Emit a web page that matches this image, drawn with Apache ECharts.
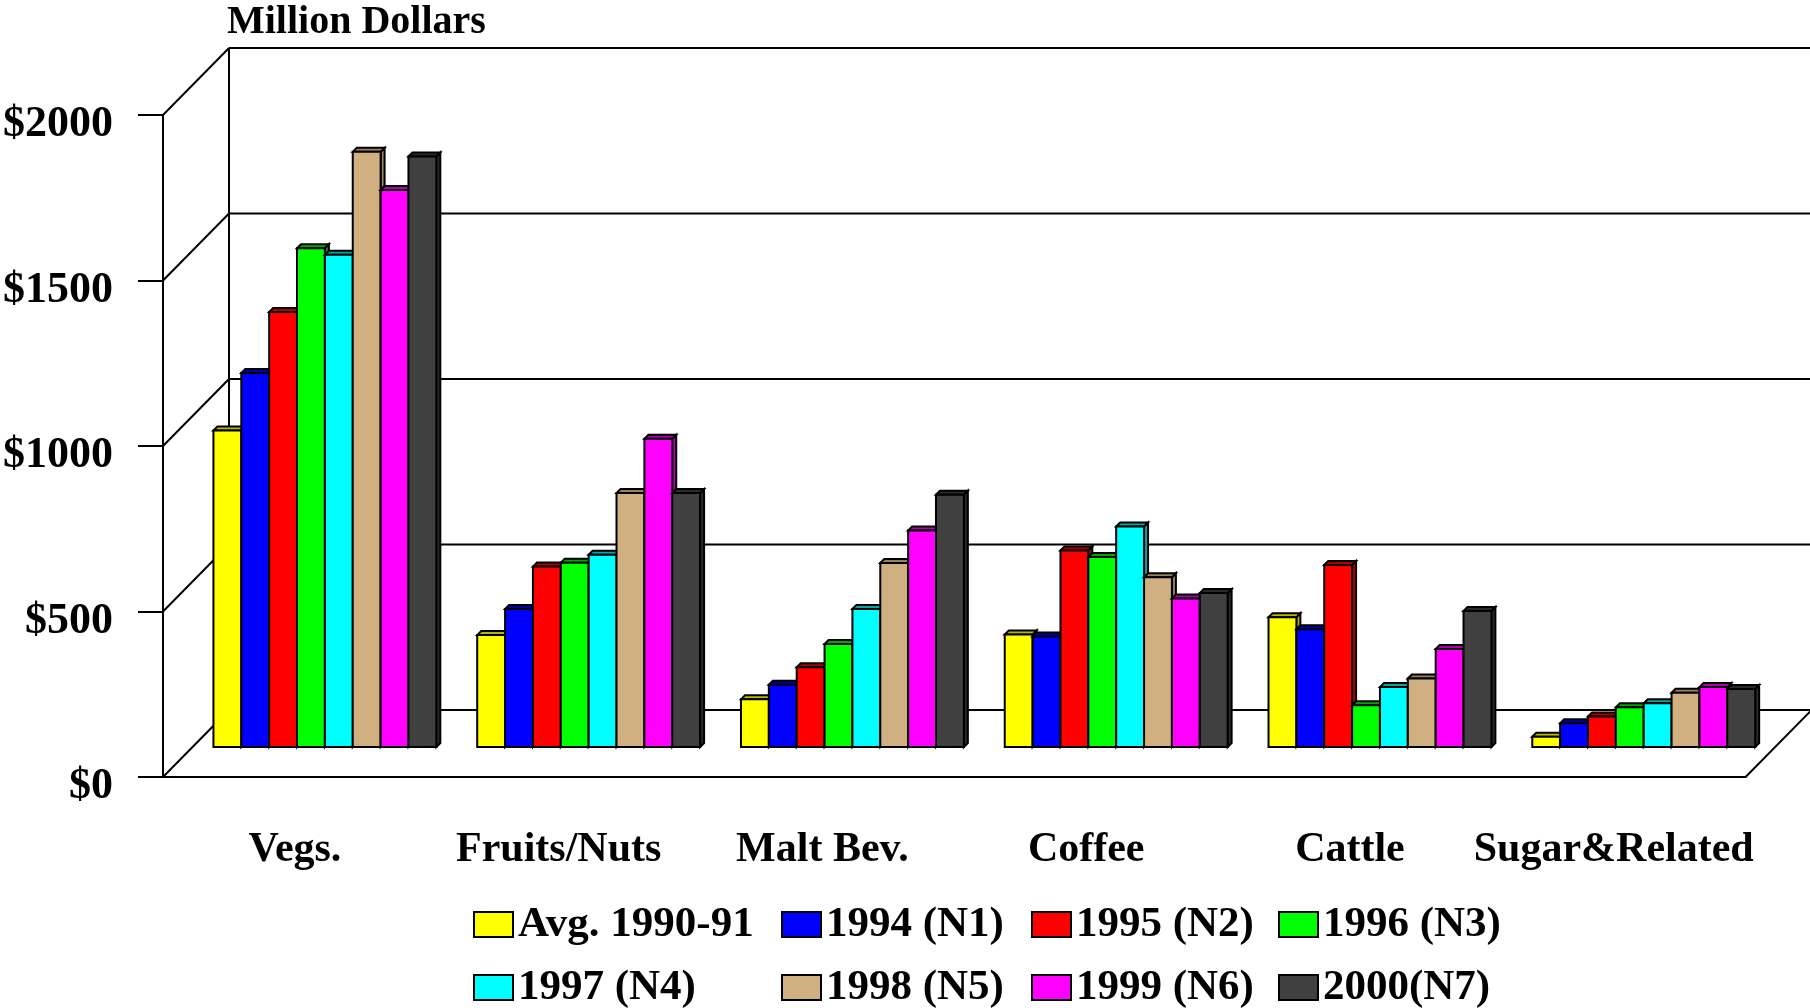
<!DOCTYPE html>
<html><head><meta charset="utf-8">
<script src="https://cdn.jsdelivr.net/npm/echarts@6/dist/echarts.min.js"></script>
<style>html,body{margin:0;padding:0;background:#fff}#c{width:1810px;height:1008px}</style>
</head><body><div id="c"></div>
<script>
// ---- data ----
const categories = ['Vegs.', 'Fruits/Nuts', 'Malt Bev.', 'Coffee', 'Cattle', 'Sugar&Related'];
const seriesNames = ['Avg. 1990-91', '1994 (N1)', '1995 (N2)', '1996 (N3)', '1997 (N4)', '1998 (N5)', '1999 (N6)', '2000(N7)'];
const avg1990_91 = [956, 338, 144, 340, 392, 31];
const y1994 = [1130, 417, 188, 334, 356, 72];
const y1995 = [1314, 545, 241, 594, 550, 92];
const y1996 = [1507, 557, 311, 574, 126, 120];
const y1997 = [1487, 581, 417, 666, 181, 132];
const y1998 = [1798, 767, 556, 513, 207, 164];
const y1999 = [1683, 931, 654, 449, 296, 181];
const y2000 = [1784, 767, 762, 465, 411, 175];
const yTicks = [0, 500, 1000, 1500, 2000];
const seriesValues = [avg1990_91, y1994, y1995, y1996, y1997, y1998, y1999, y2000];

// ---- style ----
const colors = ['#FFFF00', '#0000FF', '#FF0000', '#00FF00', '#00FFFF', '#D0B080', '#FF00FF', '#404040'];
const topColors = ['#B8B800', '#0000A8', '#B00000', '#00A800', '#00A8A8', '#9A8058', '#B000B0', '#2A2A2A'];
const FONT = '"Liberation Serif","Times New Roman",serif';
const DEPTH_X = 66, DEPTH_Y = 67;       // wall depth
const BAR_SHIFT_X = 30, BAR_SHIFT_Y = 30; // bar plane depth
const BAR_D = 4;                          // bar thickness
const GROUP_RATIO = 0.845;
const legendLefts = [473, 781, 1031, 1278];
const legendTops = [903, 966];

const chart = echarts.init(document.getElementById('c'), null, {renderer: 'canvas'});

function renderWalls(params, api) {
  const cs = params.coordSys;
  const v = api.value(1);
  const y = api.coord([0, v])[1];
  const x0 = cs.x, x1 = cs.x + cs.width;
  const ls = {stroke: '#000', lineWidth: 2};
  const children = [
    {type: 'line', shape: {x1: x0 + DEPTH_X, y1: y - DEPTH_Y, x2: x1 + DEPTH_X, y2: y - DEPTH_Y}, style: ls},
    {type: 'line', shape: {x1: x0, y1: y, x2: x0 + DEPTH_X, y2: y - DEPTH_Y}, style: ls}
  ];
  if (params.dataIndex === 0) {
    const yTop = api.coord([0, yTicks[yTicks.length - 1]])[1];
    children.push({type: 'line', shape: {x1: x0 + DEPTH_X, y1: y - DEPTH_Y, x2: x0 + DEPTH_X, y2: yTop - DEPTH_Y}, style: ls});
    children.push({type: 'line', shape: {x1: x1, y1: y, x2: x1 + DEPTH_X, y2: y - DEPTH_Y}, style: ls});
  }
  return {type: 'group', children};
}

function makeBarRenderer(s) {
  return function (params, api) {
    const i = api.value(0), v = api.value(1);
    const base = api.coord([i, 0]);
    const top = api.coord([i, v]);
    const band = api.size([1, 0])[0];
    const gw = band * GROUP_RATIO;
    const bw = gw / seriesValues.length;
    const x = base[0] - gw / 2 + s * bw + BAR_SHIFT_X;
    const yb = base[1] - BAR_SHIFT_Y;
    const yt = top[1] - BAR_SHIFT_Y;
    const st = {stroke: '#000', lineWidth: 2, lineJoin: 'miter'};
    return {
      type: 'group',
      children: [
        {type: 'polygon', shape: {points: [[x + bw, yt], [x + bw + BAR_D, yt - BAR_D], [x + bw + BAR_D, yb - BAR_D], [x + bw, yb]]},
          style: Object.assign({fill: topColors[s]}, st)},
        {type: 'polygon', shape: {points: [[x, yt], [x + BAR_D, yt - BAR_D], [x + bw + BAR_D, yt - BAR_D], [x + bw, yt]]},
          style: Object.assign({fill: topColors[s]}, st)},
        {type: 'rect', shape: {x: x, y: yt, width: bw, height: yb - yt},
          style: Object.assign({fill: colors[s]}, st)}
      ]
    };
  };
}

const series = [{
  type: 'custom', name: 'walls', silent: true, z: 1,
  renderItem: renderWalls,
  data: yTicks.map(v => [0, v])
}];
seriesValues.forEach((vals, s) => {
  series.push({
    type: 'custom', name: seriesNames[s], z: 2 + s,
    itemStyle: {color: colors[s], borderColor: '#000', borderWidth: 2},
    renderItem: makeBarRenderer(s),
    data: categories.map((c, i) => [i, vals[i]])
  });
});

const txt = {fontFamily: FONT, fontWeight: 'bold', color: '#000'};

chart.setOption({
  animation: false,
  backgroundColor: '#fff',
  title: {text: 'Million Dollars', left: 227, top: 3, padding: 0,
    textStyle: Object.assign({fontSize: 40}, txt)},
  grid: {left: 161.6, right: 64.4, top: 115, bottom: 231},
  xAxis: {
    type: 'category', data: categories, boundaryGap: true,
    axisLine: {lineStyle: {color: '#000', width: 2}},
    axisTick: {alignWithLabel: true, length: 24, lineStyle: {color: '#000', width: 2}},
    axisLabel: Object.assign({fontSize: 42, margin: 52, interval: 0}, txt),
    splitLine: {show: false}
  },
  yAxis: {
    type: 'value', min: 0, max: 2000, interval: 500,
    axisLine: {show: true, lineStyle: {color: '#000', width: 2}},
    axisTick: {show: true, length: 25, lineStyle: {color: '#000', width: 2}},
    axisLabel: Object.assign({fontSize: 44, margin: 50, verticalAlign: 'top', lineHeight: 20,
      formatter: v => '$' + v}, txt),
    splitLine: {show: false}
  },
  legend: seriesNames.map((n, k) => ({
    orient: 'horizontal', left: legendLefts[k % 4], top: legendTops[Math.floor(k / 4)], padding: 0,
    itemWidth: 39, itemHeight: 25, icon: 'rect', selectedMode: false,
    data: [n],
    itemStyle: {borderColor: '#000', borderWidth: 2},
    textStyle: Object.assign({fontSize: 43, lineHeight: 42}, txt)
  })),
  series: series
});
</script>
</body></html>
